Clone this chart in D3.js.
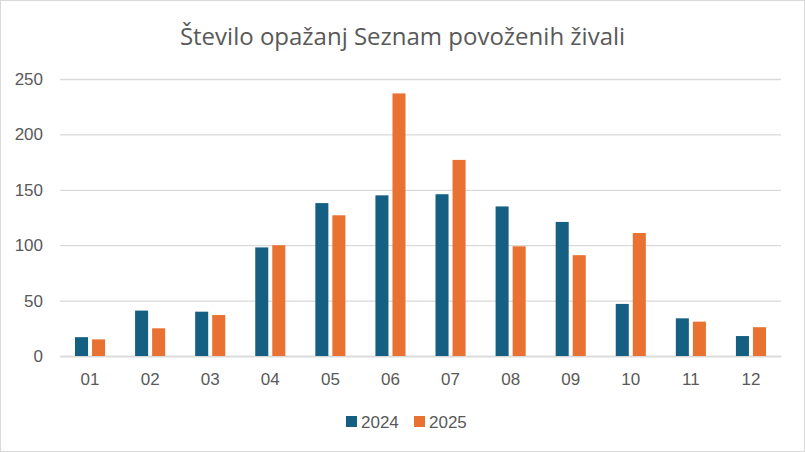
<!DOCTYPE html>
<html><head><meta charset="utf-8">
<script src="https://cdn.jsdelivr.net/npm/d3@7"></script>
<style>body{margin:0;background:#fff}svg{display:block}</style>
</head><body>
<svg id="c" width="805" height="452"></svg>
<script>
const title = "Število opažanj Seznam povoženih živali";
const months = ["01","02","03","04","05","06","07","08","09","10","11","12"];
const series = ["2024","2025"];
const values2024 = [17,41,40,98,138,145,146,135,121,47,34,18];
const values2025 = [15,25,37,100,127,237,177,99,91,111,31,26];
const yTicks = [0,50,100,150,200,250];
const colors = ["#156082","#E97132"];

const svg = d3.select("#c");
const W = 805, H = 452;
const m = {left:60, right:24, top:79, bottom:96};
svg.append("rect").attr("x",0.5).attr("y",0.5).attr("width",W-1).attr("height",H-1)
  .attr("fill","#fff").attr("stroke","#d9d9d9");

svg.append("text").attr("x",W/2).attr("y",45).attr("text-anchor","middle")
  .attr("font-family","'Open Sans', sans-serif").attr("font-size",24).attr("fill","#595959")
  .text(title);

const x = d3.scaleBand().domain(months).range([m.left, W-m.right]);
const y = d3.scaleLinear().domain([0,250]).range([H-m.bottom, m.top]);
const xs = d3.scaleBand().domain(series).range([0, x.bandwidth()]).paddingInner(0.235).paddingOuter(0.88);

const gy = svg.append("g").attr("transform",`translate(${m.left},0)`)
  .call(d3.axisLeft(y).tickValues(yTicks).tickSize(-(W-m.left-m.right)).tickPadding(17));
gy.select(".domain").remove();
gy.selectAll("line").attr("stroke","#d9d9d9").attr("stroke-width",1.3);
gy.selectAll("text").attr("font-family","'Liberation Sans', Arial, sans-serif").attr("font-size",17).attr("fill","#595959");

const gx = svg.append("g").attr("transform",`translate(0,${H-m.bottom})`)
  .call(d3.axisBottom(x).tickSize(0).tickPadding(17));
gx.select(".domain").attr("stroke","#d9d9d9").attr("stroke-width",1.3);
gx.selectAll("text").attr("font-family","'Liberation Sans', Arial, sans-serif").attr("font-size",17).attr("fill","#595959");

const data = months.map((mo,i)=>({m:mo, v:[values2024[i], values2025[i]]}));
const grp = svg.append("g").selectAll("g").data(data).join("g")
  .attr("transform",d=>`translate(${x(d.m)},0)`);
grp.selectAll("rect").data(d=>d.v.map((v,j)=>({s:series[j],v,j}))).join("rect")
  .attr("x",d=>xs(d.s)).attr("width",xs.bandwidth())
  .attr("y",d=>y(d.v)).attr("height",d=>y(0)-y(d.v))
  .attr("fill",d=>colors[d.j]);

const lg = svg.append("g");
const lx = [346, 414];
series.forEach((s,i)=>{
  lg.append("rect").attr("x",lx[i]).attr("y",416).attr("width",11).attr("height",11).attr("fill",colors[i]);
  lg.append("text").attr("x",lx[i]+15).attr("y",427.5)
    .attr("font-family","'Liberation Sans', Arial, sans-serif").attr("font-size",17).attr("fill","#595959").text(s);
});
</script>
</body></html>
